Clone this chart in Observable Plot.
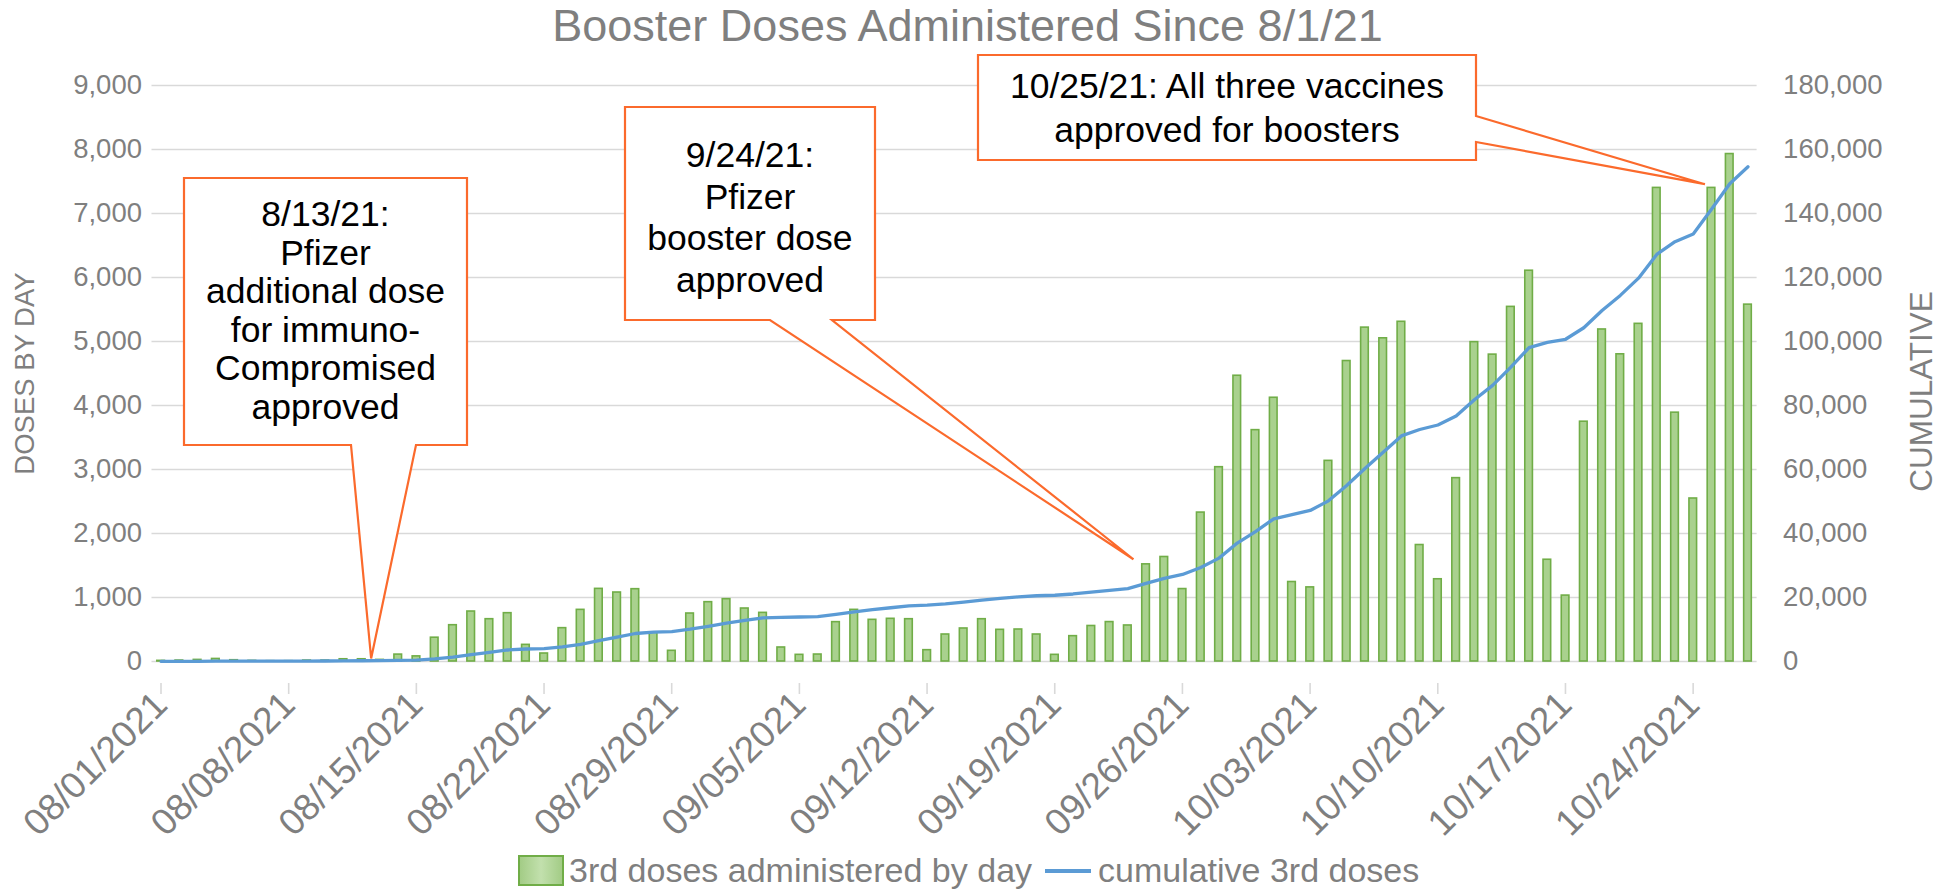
<!DOCTYPE html>
<html>
<head>
<meta charset="utf-8">
<script src="https://cdn.jsdelivr.net/npm/d3@7"></script>
<script src="https://cdn.jsdelivr.net/npm/@observablehq/plot@0.6"></script>
<style>
  html, body { margin: 0; padding: 0; background: #fff; }
  body { width: 1947px; height: 891px; position: relative; overflow: hidden; font-family: "Liberation Sans", Arial, sans-serif; }
  #title { position: absolute; left: 0; top: 0; width: 1935px; height: 52px; line-height: 52px; text-align: center; font-size: 45px; color: #7f7f7f; }
  #chart { position: absolute; left: 0; top: 50px; }
  #legend { position: absolute; left: 0; top: 850px; width: 1947px; height: 41px; }
  .lg { position: absolute; font-size: 34px; color: #7f7f7f; line-height: 41px; top: 0; white-space: nowrap; }
</style>
</head>
<body>
<div id="title">Booster Doses Administered Since 8/1/21</div>
<div id="chart"></div>
<div id="legend">
  <div id="sw1" style="position:absolute; left:518px; top:5px; width:46px; height:31px; box-sizing:border-box; border:2px solid #70ad47; background:linear-gradient(90deg,#a3cc86,#c2e0ad,#a3cc86);"></div>
  <div class="lg" id="lg1" style="left:569px;"></div>
  <div style="position:absolute; left:1045px; top:19px; width:46px; height:4px; background:#5b9bd5;"></div>
  <div class="lg" id="lg2" style="left:1098px;"></div>
</div>
<script>
// ---------------- data ----------------
const startDate = "2021-08-01";
const daily = [
  10, 15, 25, 40, 20, 10, 5, 5, 15, 15, 35, 35, 25, 108,
  80, 372, 567, 781, 661, 755, 260, 125, 521, 807, 1135, 1078, 1130, 453,
  167, 750, 927, 974, 828, 760, 219, 104, 109, 615, 807, 651, 667, 661,
  177, 422, 516, 661, 495, 500, 422, 104, 396, 555, 616, 563, 1518, 1633,
  1132, 2327, 3036, 4465, 3615, 4121, 1242, 1158, 3135, 4695, 5217, 5050, 5308, 1820,
  1285, 2865, 4990, 4795, 5541, 6106, 1590, 1030, 3747, 5188, 4800, 5276, 7400, 3888,
  2547, 7400, 7929, 5576
];
const cumulative = [
  10, 25, 50, 90, 110, 120, 125, 130, 145, 160, 195, 230, 255, 360,
  440, 810, 1380, 2160, 2820, 3600, 3900, 4050, 4550, 5350, 6500, 7650, 8750, 9150,
  9350, 10100, 11000, 12000, 12850, 13650, 13800, 13900, 14000, 14700, 15500, 16200, 16800, 17400,
  17600, 18000, 18550, 19200, 19700, 20200, 20550, 20700, 21100, 21650, 22200, 22800, 24400, 26000,
  27200, 29400, 32300, 37000, 40600, 44600, 45900, 47200, 50200, 55000, 60300, 65400, 70500, 72500,
  73900, 76700, 81800, 86300, 92000, 98100, 99700, 100700, 104300, 109700, 114400, 119800, 127200, 131200,
  133600, 141300, 149300, 154600
];
const xTickLabels = ["08/01/2021","08/08/2021","08/15/2021","08/22/2021","08/29/2021","09/05/2021","09/12/2021",
  "09/19/2021","09/26/2021","10/03/2021","10/10/2021","10/17/2021","10/24/2021"];
const leftTicks = [0, 1000, 2000, 3000, 4000, 5000, 6000, 7000, 8000, 9000];
const rightTicks = [0, 20000, 40000, 60000, 80000, 100000, 120000, 140000, 160000, 180000];
const seriesNames = ["3rd doses administered by day", "cumulative 3rd doses"];
const axisTitles = ["DOSES BY DAY", "CUMULATIVE"];
const noteLines = [
  ["8/13/21:", "Pfizer", "additional dose", "for immuno-", "Compromised", "approved"],
  ["9/24/21:", "Pfizer", "booster dose", "approved"],
  ["10/25/21: All three vaccines", "approved for boosters"]
];
const noteTipDates = ["2021-08-12T13:00Z", "2021-09-23T08:00Z", "2021-10-24T16:00Z"];
const noteTipValues = [40, 1590, 7450];

// ---------------- build ----------------
document.getElementById("lg1").textContent = seriesNames[0];
document.getElementById("lg2").textContent = seriesNames[1];
const DAY = 864e5;
const start = new Date(startDate + "T00:00Z");
const dates = daily.map((_, i) => new Date(+start + i * DAY));
const rows = dates.map((date, i) => ({date, daily: daily[i], cum: cumulative[i]}));
const parse = d3.utcParse("%m/%d/%Y");
const tickPos = xTickLabels.map(s => new Date(+parse(s) - DAY / 2));
const ratio = rightTicks[rightTicks.length - 1] / leftTicks[leftTicks.length - 1];
const fmt = d3.format(",");
const gray = "#7f7f7f";
const grid = "#d9d9d9";

const W = 1947, H = 800;
const plot = Plot.plot({
  width: W, height: H,
  marginLeft: 151.5, marginRight: 190.4, marginTop: 35, marginBottom: 189,
  style: {fontFamily: "'Liberation Sans', Arial, sans-serif", background: "transparent", overflow: "visible"},
  x: {type: "utc", domain: [new Date(+start - DAY / 2), new Date(+start + (daily.length - 0.5) * DAY)]},
  y: {domain: [0, 9000]},
  marks: [
    Plot.gridY(leftTicks, {stroke: grid, strokeOpacity: 1, strokeWidth: 1.6}),
    Plot.axisY(leftTicks, {anchor: "left", tickSize: 0, tickPadding: 10, tickFormat: fmt, fontSize: 27.5, fill: gray, label: null}),
    Plot.axisY(leftTicks, {anchor: "right", tickSize: 0, tickPadding: 26, tickFormat: d => fmt(d * ratio), fontSize: 27.5, fill: gray, label: null}),
    Plot.axisX(tickPos, {tickSize: 11, stroke: grid, strokeWidth: 1.6, tickRotate: -45, tickPadding: 4,
      tickFormat: (d, i) => xTickLabels[i], fontSize: 37, fill: gray, label: null, dx: 9, dy: 22}),
    Plot.rectY(rows, {x1: d => new Date(+d.date - DAY / 2), x2: d => new Date(+d.date + DAY / 2), y: "daily",
      insetLeft: 5.3, insetRight: 5.3, fill: "#a9d18e", stroke: "#70ad47", strokeWidth: 1.6}),
    Plot.lineY(rows, {x: "date", y: d => d.cum / ratio, stroke: "#5b9bd5", strokeWidth: 3.3}),
    Plot.text([axisTitles[0]], {frameAnchor: "left", textAnchor: "middle", dx: -126.5, rotate: -90, fontSize: 27.5, fill: gray}),
    Plot.text([axisTitles[1]], {frameAnchor: "right", textAnchor: "middle", dx: 165, dy: 18, rotate: -90, fontSize: 31.5, fill: gray})
  ]
});
document.getElementById("chart").appendChild(plot);

// ---------------- callouts ----------------
const xs = plot.scale("x"), ys = plot.scale("y");
const svg = d3.select(plot);
const boxes = [
  {x1: 184, x2: 467, y1: 128, y2: 395, side: "bottom", p1: 351, p2: 416, lineY0: 164, lineH: 38.5},
  {x1: 625, x2: 875, y1: 57, y2: 270, side: "bottom", p1: 770, p2: 832, lineY0: 105, lineH: 41.5},
  {x1: 978, x2: 1476, y1: 5, y2: 110, side: "right", p1: 66, p2: 92, lineY0: 36, lineH: 44}
];
const g = svg.append("g");
boxes.forEach((b, i) => {
  const tx = xs.apply(new Date(noteTipDates[i]));
  const ty = ys.apply(noteTipValues[i]);
  let d;
  if (b.side === "bottom") {
    d = `M${b.x1},${b.y1}H${b.x2}V${b.y2}H${b.p2}L${tx},${ty}L${b.p1},${b.y2}H${b.x1}Z`;
  } else {
    d = `M${b.x1},${b.y1}H${b.x2}V${b.p1}L${tx},${ty}L${b.x2},${b.p2}V${b.y2}H${b.x1}Z`;
  }
  g.append("path").attr("d", d).attr("fill", "#fff").attr("stroke", "#fb6a2c").attr("stroke-width", 2.2)
    .attr("stroke-linejoin", "miter");
  const cx = (b.x1 + b.x2) / 2;
  noteLines[i].forEach((t, k) => {
    g.append("text").attr("x", cx).attr("y", b.lineY0 + k * b.lineH).attr("text-anchor", "middle")
      .attr("dominant-baseline", "central").attr("font-size", 35.5).attr("fill", "#000").text(t);
  });
});
</script>
</body>
</html>
